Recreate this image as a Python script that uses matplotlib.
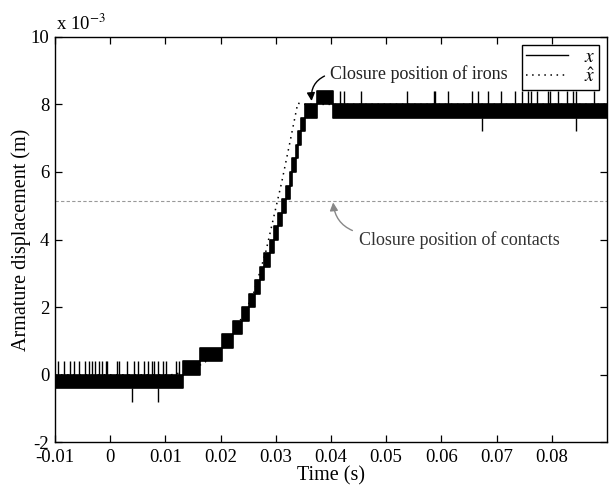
import matplotlib
matplotlib.use("Agg")
import matplotlib.pyplot as plt
from matplotlib.lines import Line2D
import numpy as np

plt.rcParams['font.family'] = ['Liberation Serif', 'DejaVu Serif']
plt.rcParams['mathtext.fontset'] = 'stix'
plt.rcParams['axes.unicode_minus'] = False

# measured armature displacement x, in units of 1e-3 m (quantised, step q_step)
# the signal flickers between two neighbouring levels -> drawn as bands [lo, lo+q]
q_step = 0.4
band_t = [-0.01, 0.0132, 0.0163, 0.0203, 0.0223, 0.0239, 0.0252, 0.0262, 0.0272,
          0.0279, 0.0290, 0.0297, 0.0304, 0.0311, 0.0318, 0.0325, 0.0330, 0.0336,
          0.0340, 0.0346, 0.0353, 0.0375, 0.0404]
band_lo = [-0.4, 0.0, 0.4, 0.8, 1.2, 1.6, 2.0, 2.4, 2.8,
           3.2, 3.6, 4.0, 4.4, 4.8, 5.2, 5.6, 6.0, 6.4,
           6.8, 7.2, 7.6, 8.0, 7.6]
t_end = 0.09

# single-sample spikes one level above / below the band
spike_up_t = [-0.0095, -0.0083, -0.0072, -0.0066, -0.0057, -0.0045, -0.0038, -0.0032,
              -0.0027, -0.0021, -0.0014, -0.0008, -0.0005, 0.0012, 0.0017, 0.0030,
              0.0043, 0.0050, 0.0062, 0.0069, 0.0075, 0.0080, 0.0087, 0.0095,
              0.0101, 0.0120, 0.0125,
              0.0416, 0.0424, 0.0454, 0.0538, 0.0586, 0.0588, 0.0612, 0.0655, 0.0666,
              0.0684, 0.0708, 0.0733, 0.0746, 0.0757, 0.0762, 0.0773, 0.0794, 0.0796,
              0.0811, 0.0828, 0.0838, 0.0844, 0.0876]
spike_dn_t = [0.0039, 0.0087, 0.0674, 0.0844]

# estimate x_hat (same units)
xhat_t = [-0.01, 0.011, 0.014, 0.017, 0.0195, 0.0215, 0.0238, 0.0259, 0.0282,
          0.0311, 0.0326, 0.0340, 0.0347, 0.09]
xhat_v = [0.0, 0.0, 0.1, 0.35, 0.7, 1.1, 1.67, 2.36, 3.64,
          5.71, 6.9, 8.04, 8.0, 8.0]

contact_pos = 5.14

fig = plt.figure(figsize=(6.1, 4.9), dpi=100)
ax = fig.add_axes([0.090, 0.097, 0.905, 0.828])

ax.plot(xhat_t, xhat_v, color='k', lw=1.1, ls=(0, (1, 3)), zorder=1)

ts = band_t + [t_end]
lo = np.array(band_lo + [band_lo[-1]])
ax.fill_between(ts, lo, lo + q_step, step='post', facecolor='k',
                edgecolor='k', linewidth=1.2, zorder=2)

idx_up = np.searchsorted(band_t, spike_up_t, side='right') - 1
up_from = np.array(band_lo)[idx_up] + q_step
ax.vlines(spike_up_t, up_from, up_from + q_step, color='k', lw=1.0, zorder=2)
idx_dn = np.searchsorted(band_t, spike_dn_t, side='right') - 1
dn_from = np.array(band_lo)[idx_dn]
ax.vlines(spike_dn_t, dn_from - q_step, dn_from, color='k', lw=1.0, zorder=2)

ax.axhline(contact_pos, color='#999999', lw=0.8, ls=(0, (3, 2)), zorder=1)

ax.set_xlim(-0.01, 0.09)
ax.set_ylim(-2, 10)
ax.set_xticks(np.arange(-0.01, 0.085, 0.01))
ax.set_xticklabels(['-0.01', '0', '0.01', '0.02', '0.03', '0.04', '0.05',
                    '0.06', '0.07', '0.08'])
ax.set_yticks(np.arange(-2, 11, 2))
ax.tick_params(direction='in', length=5, width=0.9, top=True, right=True,
               labelsize=13.5, pad=4)
ax.tick_params(axis='x', pad=5)
for s in ax.spines.values():
    s.set_linewidth(1.0)

ax.set_xlabel('Time (s)', fontsize=14.5, labelpad=0)
ax.set_ylabel('Armature displacement (m)', fontsize=14.5, labelpad=0)

ax.annotate('x 10$^{-3}$', xy=(0, 1), xycoords='axes fraction',
            xytext=(1, 2), textcoords='offset points', fontsize=13.5,
            ha='left', va='bottom')

ax.annotate('Closure position of irons', xy=(0.0365, 8.1), xytext=(0.0398, 8.9),
            fontsize=13, color='#222222', ha='left', va='center',
            arrowprops=dict(arrowstyle='-|>', color='k', lw=1.0,
                            connectionstyle='arc3,rad=0.4', relpos=(0, 0.5),
                            shrinkA=2, shrinkB=0, mutation_scale=12))
ax.annotate('Closure position of contacts', xy=(0.0404, 5.1), xytext=(0.0451, 3.99),
            fontsize=13, color='#333333', ha='left', va='center',
            arrowprops=dict(arrowstyle='-|>', color='#888888', lw=1.0,
                            connectionstyle='arc3,rad=-0.35', relpos=(0, 0.9),
                            shrinkA=3, shrinkB=0, mutation_scale=12))

handles = [Line2D([], [], color='k', lw=1.0),
           Line2D([], [], color='k', lw=1.1, ls=(0, (1, 3)))]
leg = ax.legend(handles, ['$x$', r'$\hat{x}$'], loc='upper right', fontsize=14,
                fancybox=False, edgecolor='k', framealpha=1, borderaxespad=0.4,
                handlelength=2.2, labelspacing=0.05, borderpad=0.2)
leg.get_frame().set_linewidth(1.0)

fig.savefig('out.png', dpi=100)
